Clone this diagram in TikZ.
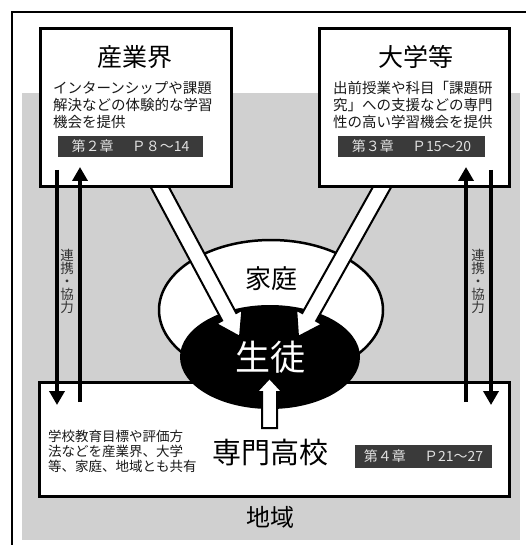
\documentclass[tikz,border=0pt]{standalone}
\usepackage{fontspec}
\setmainfont{Noto Sans CJK JP}
\usetikzlibrary{arrows.meta,calc,shapes.geometric}
\definecolor{bggray}{RGB}{208,208,208}
\definecolor{labfill}{RGB}{58,58,58}
\definecolor{labtext}{RGB}{225,225,225}
\newcommand\blockarrow[5]{%
  \path ($(#2)!#5!(#1)$) coordinate (hb);
  \filldraw[fill=white,draw=black,line width=2pt,line join=miter]
    ($(#1)!#3!90:(#2)$) -- ($(hb)!#3!90:(#2)$) -- ($(hb)!#4!90:(#2)$) -- (#2)
    -- ($(hb)!#4!-90:(#2)$) -- ($(hb)!#3!-90:(#2)$) -- ($(#1)!#3!-90:(#2)$) -- cycle;}
\tikzset{
  box/.style={draw=black,line width=3pt,fill=white,inner sep=0pt},
  ttl/.style={font=\fontsize{25}{28}\selectfont,inner sep=0pt},
  body/.style={font=\fontsize{14.5}{17}\selectfont,align=left,inner sep=0pt,anchor=north west,text=black!90},
  lab/.style={fill=labfill,text=labtext,font=\fontsize{14}{15}\selectfont,inner sep=0pt,minimum height=21pt},
  thinarr/.style={line width=4pt,-{Triangle[length=14pt,width=15pt]}},
  vt/.style={font=\fontsize{13.5}{13}\selectfont,align=center,inner sep=0pt,text=black!80},
}
\begin{document}
\begin{tikzpicture}[x=1pt,y=-1pt]
\useasboundingbox (0,0) rectangle (526,545);
% background region and frame
\fill[bggray] (22,93) rectangle (520,540);
\draw[line width=1.3pt] (12,545) -- (12,12) -- (526,12);
% home ellipse
\node[ellipse,draw=black,line width=2.5pt,fill=white,minimum width=224pt,minimum height=140pt] (home) at (271,310) {};
\node[font=\fontsize{26}{28}\selectfont,inner sep=0pt] (homeT) at (271,279) {家庭};
% school box
\node[box,minimum width=470pt,minimum height=114pt,anchor=north west] (sch) at (38,381) {};
% student ellipse
\node[ellipse,fill=black,minimum width=180pt,minimum height=104pt] (stu) at (270,357) {};
\node[font=\fontsize{35}{37}\selectfont,text=white,inner sep=0pt] (stuT) at (270,357) {生徒};
% big arrows into student
\coordinate (indOut) at (156,180);
\coordinate (indIn) at (240,337);
\coordinate (uniOut) at (386,180);
\coordinate (uniIn) at (298,337);
\blockarrow{indOut}{indIn}{8pt}{15pt}{23pt}
\blockarrow{uniOut}{uniIn}{8pt}{15pt}{23pt}
% industry box
\node[box,minimum width=191pt,minimum height=158pt,anchor=north west] (ind) at (39,27) {};
\node[ttl] (indT) at (135,57) {産業界};
\node[body] (indB) at (53,81) {インターンシップや課題\\解決などの体験的な学習\\機会を提供};
\node[lab,minimum width=145pt] (indL) at (130.5,146.5) {第２章\hspace{0.3em}　Ｐ８～14};
% university box
\node[box,minimum width=190pt,minimum height=158pt,anchor=north west] (uni) at (318,27) {};
\node[ttl] (uniT) at (416,57) {大学等};
\node[body] (uniB) at (333,81) {出前授業や科目「課題研\\究」への支援などの専門\\性の高い学習機会を提供};
\node[lab,minimum width=147pt] (uniL) at (411.5,146.5) {第３章\hspace{0.3em}　Ｐ15～20};
% school texts
\node[body,font=\fontsize{13.5}{15}\selectfont] (schB) at (48,430) {学校教育目標や評価方\\法などを産業界、大学\\等、家庭、地域とも共有};
\node[font=\fontsize{29}{31}\selectfont,inner sep=0pt] (schT) at (270,453) {専門高校};
\node[lab,minimum width=137pt,minimum height=23pt] (schL) at (423.5,456.5) {第４章\hspace{0.3em}　Ｐ21～27};
% region label
\node[font=\fontsize{24}{26}\selectfont,inner sep=0pt] (reg) at (270,517) {地域};
% upward arrow school -> student
\coordinate (schOut) at (269.5,428);
\coordinate (stuIn) at (269.5,378);
\blockarrow{schOut}{stuIn}{7.5pt}{13pt}{14pt}
% thin cooperation arrows
\coordinate (l1s) at (57,170); \coordinate (l1e) at (57,405);
\coordinate (l2s) at (80,402); \coordinate (l2e) at (80,167);
\coordinate (r1s) at (466,402); \coordinate (r1e) at (466,167);
\coordinate (r2s) at (491,170); \coordinate (r2e) at (491,405);
\draw[thinarr] (l1s) -- (l1e);
\draw[thinarr] (l2s) -- (l2e);
\draw[thinarr] (r1s) -- (r1e);
\draw[thinarr] (r2s) -- (r2e);
\node[vt] (vtL) at (67,281) {連\\携\\・\\協\\力};
\node[vt] (vtR) at (478,281) {連\\携\\・\\協\\力};
\end{tikzpicture}
\end{document}
